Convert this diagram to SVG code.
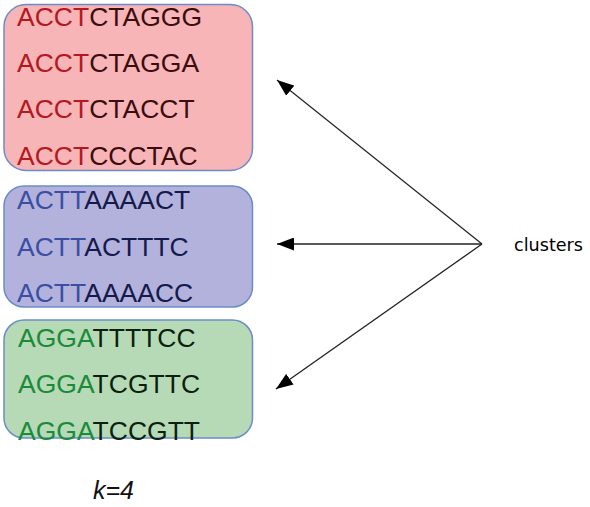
<svg xmlns="http://www.w3.org/2000/svg" width="590" height="507" viewBox="0 0 590 507">
<style>
.box{stroke:#6b8cc8;stroke-width:1.5}
.seq{font-family:"Liberation Sans",Arial,sans-serif;font-size:26.5px}
.r1{fill:#b3191f}.r2{fill:#3b0d0f}
.b1{fill:#3a4fa3}.b2{fill:#151a4d}
.g1{fill:#1b8a3a}.g2{fill:#0d1f0f}
.arrow{stroke:#222;stroke-width:1.3;fill:none;marker-end:url(#ah)}
</style>
<defs>
<marker id="ah" viewBox="0 0 17 13" refX="17" refY="6.5" markerWidth="17" markerHeight="13" markerUnits="userSpaceOnUse" orient="auto">
<path d="M0,0 L17,6.5 L0,13 Z" fill="#000"/>
</marker>
</defs>
<rect width="590" height="507" fill="#fff"/>
<g id="cluster1">
<rect class="box" x="4" y="4.5" width="248.5" height="166" rx="22" fill="#f7b5b7"/>
<text class="seq" x="17" y="26"><tspan class="r1">ACCT</tspan><tspan class="r2">CTAGGG</tspan></text>
<text class="seq" x="17" y="72"><tspan class="r1">ACCT</tspan><tspan class="r2">CTAGGA</tspan></text>
<text class="seq" x="17" y="118"><tspan class="r1">ACCT</tspan><tspan class="r2">CTACCT</tspan></text>
<text class="seq" x="17" y="165"><tspan class="r1">ACCT</tspan><tspan class="r2">CCCTAC</tspan></text>
</g>
<g id="cluster2">
<rect class="box" x="4" y="186" width="248.5" height="121" rx="20" fill="#b3b2dc"/>
<text class="seq" x="17" y="209"><tspan class="b1">ACTT</tspan><tspan class="b2">AAAACT</tspan></text>
<text class="seq" x="17" y="256"><tspan class="b1">ACTT</tspan><tspan class="b2">ACTTTC</tspan></text>
<text class="seq" x="17" y="302"><tspan class="b1">ACTT</tspan><tspan class="b2">AAAACC</tspan></text>
</g>
<g id="cluster3">
<rect class="box" x="4" y="320" width="248.5" height="118" rx="20" fill="#b5dab5"/>
<text class="seq" x="18" y="347"><tspan class="g1">AGGA</tspan><tspan class="g2">TTTTCC</tspan></text>
<text class="seq" x="18" y="393"><tspan class="g1">AGGA</tspan><tspan class="g2">TCGTTC</tspan></text>
<text class="seq" x="18" y="440"><tspan class="g1">AGGA</tspan><tspan class="g2">TCCGTT</tspan></text>
</g>
<g id="connectors">
<line class="arrow" x1="482" y1="244" x2="277" y2="80"/>
<line class="arrow" x1="482" y1="244" x2="277" y2="244"/>
<line class="arrow" x1="482" y1="244" x2="276" y2="389"/>
</g>
<g id="label">
<text x="514" y="251" font-family="DejaVu Sans,sans-serif" font-size="18" textLength="69" lengthAdjust="spacingAndGlyphs" fill="#000">clusters</text>
</g>
<g id="k">
<text x="93" y="499" font-family="Liberation Sans,Arial,sans-serif" font-size="25" font-style="italic" fill="#111">k=4</text>
</g>
</svg>
